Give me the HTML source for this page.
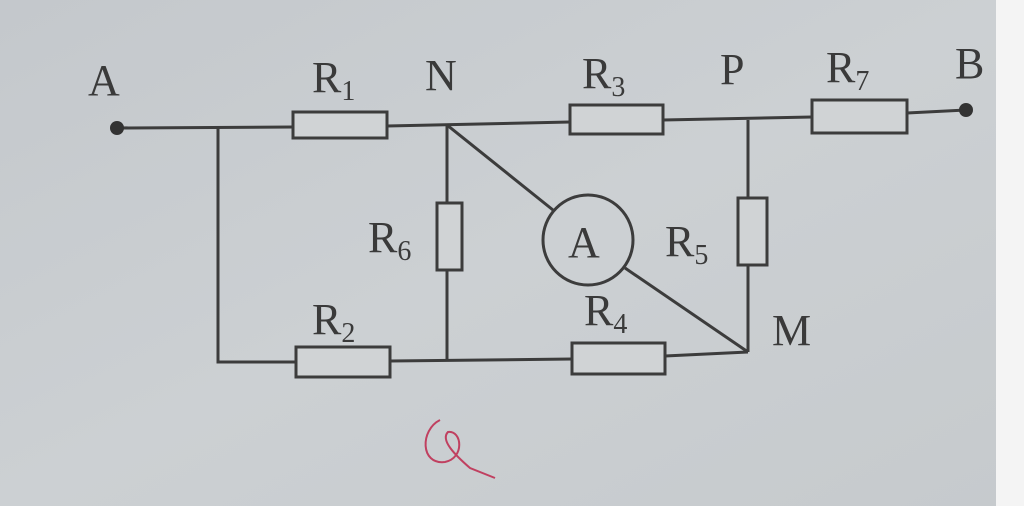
<!DOCTYPE html>
<html><head><meta charset="utf-8"><style>
html,body{margin:0;padding:0;width:1024px;height:506px;overflow:hidden;background:#c8ccd0}
svg{display:block}
text{font-family:"Liberation Serif",serif;fill:#3a3a3a}
</style></head><body>
<svg width="1024" height="506" viewBox="0 0 1024 506">
<defs><linearGradient id="bg" x1="0" y1="0" x2="1" y2="1">
<stop offset="0" stop-color="#c4c8cc"/><stop offset="0.5" stop-color="#ccd0d3"/><stop offset="1" stop-color="#c6cacd"/></linearGradient></defs>
<rect width="1024" height="506" fill="url(#bg)"/>
<rect x="996" y="0" width="28" height="506" fill="#f4f4f4"/>
<g stroke="#3c3c3c" stroke-width="3" fill="none">
<polyline points="117,128 293,127"/>
<polyline points="387,126 570,122"/>
<polyline points="663,120 812,117"/>
<polyline points="907,113 966,110"/>
<polyline points="218,127 218,362 296,362"/>
<polyline points="390,361 572,359"/>
<polyline points="665,356 748,352"/>
<polyline points="447,125 447,203"/><polyline points="447,270 447,360"/>
<polyline points="748,120 748,198"/><polyline points="748,265 748,352"/>
<line x1="447" y1="125" x2="553" y2="210"/>
<line x1="625" y1="268" x2="748" y2="352"/>
<rect x="293" y="112" width="94" height="26" fill="#d0d3d5"/>
<rect x="570" y="105" width="93" height="29" fill="#d0d3d5"/>
<rect x="812" y="100" width="95" height="33" fill="#d0d3d5"/>
<rect x="296" y="347" width="94" height="30" fill="#d0d3d5"/>
<rect x="572" y="343" width="93" height="31" fill="#d0d3d5"/>
<rect x="437" y="203" width="25" height="67" fill="#d0d3d5"/>
<rect x="738" y="198" width="29" height="67" fill="#d0d3d5"/>
<circle cx="588" cy="240" r="45" fill="#ccd0d3"/>
</g>
<circle cx="117" cy="128" r="7" fill="#333"/>
<circle cx="966" cy="110" r="7" fill="#333"/>
<g font-size="44">
<text x="88" y="95">A</text>
<text x="312" y="92">R<tspan font-size="28" dy="8">1</tspan></text>
<text x="425" y="90">N</text>
<text x="582" y="88">R<tspan font-size="28" dy="8">3</tspan></text>
<text x="720" y="84">P</text>
<text x="826" y="82">R<tspan font-size="28" dy="8">7</tspan></text>
<text x="955" y="78">B</text>
<text x="368" y="252">R<tspan font-size="28" dy="8">6</tspan></text>
<text x="665" y="256">R<tspan font-size="28" dy="8">5</tspan></text>
<text x="568" y="257">A</text>
<text x="312" y="334">R<tspan font-size="28" dy="8">2</tspan></text>
<text x="584" y="325">R<tspan font-size="28" dy="8">4</tspan></text>
<text x="772" y="345">M</text>
</g>
<path d="M440,420 C420,430 420,465 445,462 C465,458 462,430 448,432 C440,440 455,455 470,468 L495,478" stroke="#c04060" stroke-width="2" fill="none"/>
</svg>
</body></html>
